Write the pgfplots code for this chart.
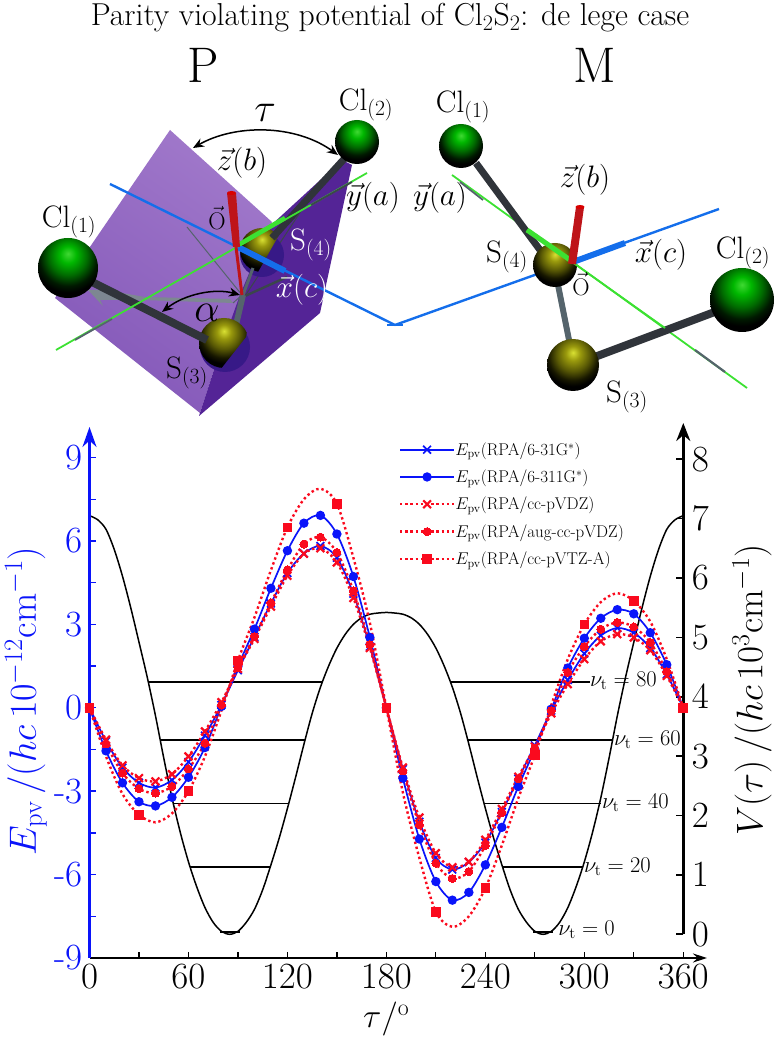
\RequirePackage{fix-cm}
\documentclass[border=0pt]{standalone}
\usepackage{pgfplots}
\usepackage{pgfplotstable}
\pgfplotsset{compat=1.18}
\usetikzlibrary{arrows.meta}
\definecolor{pvblue}{RGB}{10,20,250}
\definecolor{pvred}{RGB}{250,10,30}
\definecolor{axblue}{RGB}{20,110,235}
\definecolor{axgreen}{RGB}{60,225,50}
\definecolor{bonddark}{RGB}{48,52,58}
\definecolor{bondgrey}{RGB}{85,100,108}
\definecolor{barred}{RGB}{190,20,25}
\definecolor{clA}{rgb}{0.25,0.85,0.2}
\definecolor{clB}{rgb}{0,0.72,0}
\definecolor{clC}{rgb}{0,0.42,0}
\definecolor{clD}{rgb}{0,0.1,0}
\definecolor{sA}{rgb}{0.85,0.88,0.2}
\definecolor{sB}{rgb}{0.6,0.6,0.05}
\definecolor{sC}{rgb}{0.35,0.35,0.02}
\definecolor{sD}{rgb}{0.09,0.09,0}
\definecolor{planeL}{RGB}{160,120,202}
\definecolor{planeR}{RGB}{132,88,185}
\definecolor{planeD}{RGB}{84,36,150}
\definecolor{atomB}{RGB}{55,25,135}
\definecolor{shadowG}{RGB}{125,135,145}
\pgfdeclareradialshading{clball}{\pgfpoint{0bp}{12bp}}{color(0bp)=(clA);color(7bp)=(clB);color(16bp)=(clC);color(24bp)=(clD);color(29bp)=(black);color(100bp)=(black)}
\pgfdeclareradialshading{sball}{\pgfpoint{0bp}{12bp}}{color(0bp)=(sA);color(7bp)=(sB);color(16bp)=(sC);color(24bp)=(sD);color(29bp)=(black);color(100bp)=(black)}
\newcommand{\fs}[1]{\fontsize{#1}{#1}\selectfont}
\pgfplotstableread{
tau bx bd rx rd rs
0 0 0 0 0 0
10 -1.2 -1.55 -1.15 -1.3 -1.75
20 -2.15 -2.7 -2.07 -2.35 -3.1
30 -2.7 -3.38 -2.53 -2.91 -3.85
40 -2.87 -3.53 -2.65 -3.07 -4.12
50 -2.6 -3.22 -2.39 -2.83 -3.8
60 -1.95 -2.5 -1.75 -2.2 -3.0
70 -1.0 -1.43 -0.85 -1.27 -1.75
80 0.1 0.05 0.2 0.1 -0.1
90 1.35 1.5 1.4 1.45 1.7
100 2.55 2.83 2.48 2.56 3.25
110 3.75 4.3 3.64 3.77 4.95
120 4.85 5.65 4.75 4.96 6.49
130 5.55 6.64 5.54 5.89 7.5
140 5.82 6.92 5.74 6.14 7.88
150 5.4 6.25 5.23 5.59 7.34
160 4.1 4.72 3.95 4.21 5.4
170 2.2 2.53 2.15 2.27 3.05
180 0 0 0 0 0
190 -2.2 -2.53 -2.15 -2.27 -3.05
200 -4.1 -4.72 -3.95 -4.21 -5.4
210 -5.4 -6.25 -5.23 -5.59 -7.34
220 -5.82 -6.92 -5.74 -6.14 -7.88
230 -5.55 -6.64 -5.54 -5.89 -7.5
240 -4.85 -5.65 -4.75 -4.96 -6.49
250 -3.75 -4.3 -3.64 -3.77 -4.95
260 -2.55 -2.83 -2.48 -2.56 -3.25
270 -1.35 -1.5 -1.4 -1.45 -1.7
280 -0.1 -0.05 -0.2 -0.1 0.1
290 1.0 1.43 0.85 1.27 1.75
300 1.95 2.5 1.75 2.2 3.0
310 2.6 3.22 2.39 2.83 3.8
320 2.87 3.53 2.65 3.07 4.12
330 2.7 3.38 2.53 2.91 3.85
340 2.15 2.7 2.07 2.35 3.1
350 1.2 1.55 1.15 1.3 1.75
360 0 0 0 0 0
}\Eseries
\pgfplotstableread{
tau V
0 7.05
5 6.98
10 6.82
15 6.48
20 6.03
25 5.5
30 4.92
35 4.33
40 3.68
45 2.97
50 2.3
55 1.72
60 1.22
65 0.8
70 0.45
75 0.2
80 0.05
85 0.0
90 0.05
95 0.2
100 0.42
105 0.75
110 1.17
115 1.62
120 2.12
125 2.65
130 3.2
135 3.72
140 4.16
145 4.52
150 4.82
155 5.05
160 5.22
165 5.33
170 5.39
175 5.41
180 5.42
185 5.41
190 5.39
195 5.33
200 5.22
205 5.05
210 4.82
215 4.52
220 4.16
225 3.72
230 3.2
235 2.65
240 2.12
245 1.62
250 1.17
255 0.75
260 0.42
265 0.2
270 0.05
275 0.0
280 0.05
285 0.2
290 0.45
295 0.8
300 1.22
305 1.72
310 2.3
315 2.97
320 3.68
325 4.33
330 4.92
335 5.5
340 6.03
345 6.48
350 6.82
355 6.98
360 7.05
}\Vcurve
\begin{document}
\begin{tikzpicture}
\useasboundingbox (0pt,0pt) rectangle (779pt,1038pt);
% ---------- illustration, in the reference's pixel coordinates
\begin{scope}[x=1pt,y=-1pt,yshift=1038pt]
\node[font=\fs{31.7}] at (390,18) {Parity violating potential of Cl$_2$S$_2$: de lege case};
\node[font=\fs{50}] at (203,65) {P};
\node[font=\fs{50}] at (595,65) {M};
% planes
\shade[left color=planeL,right color=planeR,shading angle=-35] (170,130)--(272,222)--(240,300)--(222,345)--(200,413)--(55,298)--cycle;
\fill[planeD] (342,160)--(352,165)--(320,313)--(199,416)--(222,345)--(240,295)--(268,228)--cycle;
\fill[shadowG] (88,290)--(103,306)--(100,300)--(142,300)--(233,303)--(230,299)--(145,297)--(105,290)--cycle;
% P: hidden lines
\draw[line width=1pt,bondgrey] (187,227)--(242,295)--(233,303);
\draw[line width=2.4pt,bondgrey!70!black] (245,296)--(287,277);
\draw[line width=1pt,bondgrey!70!black] (245,296)--(305,205);
% P: atoms and bonds
\fill[atomB] (262,255) circle (22);
\begin{scope}\clip (232,220)--(283,228)--(258,272)--(240,285)--cycle;\shade[shading=sball] (262,250) circle (22);\end{scope}
\draw[line width=6pt,bondgrey] (243,295)--(236,325);
\draw[line width=3pt,bondgrey] (253,268)--(243,295);
\draw[line width=7pt,bonddark] (272,238)--(345,158);
\shade[shading=clball] (357,142) circle (22);
\fill[atomB] (225,347) circle (25);
\begin{scope}\clip (195,315)--(250,315)--(246,337)--(220,370)--(195,370)--cycle;\shade[shading=sball] (224,343) circle (25);\end{scope}
\draw[line width=8pt,bonddark] (92,282)--(207,340);
\shade[shading=clball] (68,268) circle (30);
% P: axes
\draw[line width=2.4pt,axblue] (110,184)--(395,325);
\draw[line width=6pt,axblue] (236,246)--(285,271);
\draw[line width=1.8pt,axgreen] (56,350)--(367,173);
\draw[line width=1.8pt,bondgrey] (75,340)--(112,319);
\draw[line width=1.8pt,bondgrey!70!black] (311,205)--(352,182);
\draw[line width=4.5pt,axgreen] (240,244)--(285,218);
\draw[line width=3pt,barred] (236,247)--(242,295);
\fill[barred] (227,193)--(236,193)--(240,247)--(233,247)--cycle;
\fill[red!85!black] (231.5,193) ellipse (4.5 and 2);
\draw[{Stealth[length=11pt,width=9pt]}-{Stealth[length=11pt,width=9pt]},line width=1.5pt] (193,148) .. controls (235,124) and (295,124) .. (338,155);
\draw[{Stealth[length=11pt,width=9pt]}-{Stealth[length=11pt,width=9pt]},line width=1.5pt] (162,312) .. controls (185,294) and (215,288) .. (240,295);
% M: axes, atoms and bonds
\draw[line width=2.4pt,axblue] (395,325)--(719,209);
\draw[line width=2pt,axblue] (387,325)--(403,325);
\draw[line width=1.8pt,axgreen] (452,175)--(747,388);
\draw[line width=1.8pt,bondgrey] (460,182)--(483,200);
\draw[line width=2.2pt,bondgrey] (695,350)--(725,372);
\draw[line width=7pt,bonddark] (476,163)--(540,250);
\shade[shading=clball] (461,146) circle (22);
\draw[line width=6pt,bondgrey] (557,280)--(570,345);
\shade[shading=sball] (555,265) circle (22);
\draw[line width=8pt,bonddark] (592,358)--(720,310);
\shade[shading=sball] (573,365) circle (26);
\shade[shading=clball] (742,300) circle (32);
\draw[line width=6pt,axblue] (573,262)--(625,243);
\draw[line width=5pt,axgreen] (527,230)--(573,262);
\draw[line width=1.8pt,axgreen] (527,230)--(665,328);
\draw[line width=8pt,barred] (572,264)--(580,207);
\fill[red!85!black] (580,207) ellipse (4.5 and 2);
% labels
\begin{scope}[every node/.style={font=\fs{31}}]
\node at (69,222) {Cl$_{(1)}$};
\node at (366,105) {Cl$_{(2)}$};
\node[font=\fs{40}] at (265,113) {$\tau$};
\node at (242,163) {$\vec{z}(b)$};
\node[font=\fs{24}] at (217,218) {$\vec{\mathrm{O}}$};
\node[white] at (311,245) {S$_{(4)}$};
\node[white] at (302,290) {$\vec{x}(c)$};
\node at (373,198) {$\vec{y}(a)$};
\node[font=\fs{40}] at (207,313) {$\alpha$};
\node at (187,373) {S$_{(3)}$};
\node at (463,107) {Cl$_{(1)}$};
\node at (440,198) {$\vec{y}(a)$};
\node at (585,180) {$\vec{z}(b)$};
\node at (507,257) {S$_{(4)}$};
\node at (661,255) {$\vec{x}(c)$};
\node[font=\fs{24}] at (581,284) {$\vec{\mathrm{O}}$};
\node at (743,253) {Cl$_{(2)}$};
\node at (627,397) {S$_{(3)}$};
\end{scope}
\end{scope}
% ---------- potential on the right-hand axis
\begin{axis}[
  name=Vaxis, scale only axis, at={(89.5pt,103.7pt)}, anchor=south west,
  width=593.8pt, height=511.3pt,
  xmin=0, xmax=360, ymin=0, ymax=8.61,
  axis x line=none, axis y line=right,
  axis line style={line width=2.6pt,black,-{Stealth[length=18pt,width=14pt]}},
  ytick={0,1,...,8}, tick align=inside, major tick length=7pt,
  y tick style={line width=1.6pt,black},
  tick label style={font=\fs{37}}, yticklabel style={xshift=5pt},
  ylabel={$V(\tau)\,/(hc\,10^{3}\mathrm{cm}^{-1})$},
  ylabel style={font=\fs{37},at={(axis description cs:1.1157,0.478)},anchor=center},
  clip=false,
]
\addplot[black,line width=1.5pt,smooth] table[x=tau,y=V] {\Vcurve};
\addplot[black,line width=1.5pt] coordinates {(36,4.25) (141,4.25)};
\addplot[black,line width=1.5pt] coordinates {(219,4.25) (303.5,4.25)};
\addplot[black,line width=1.5pt] coordinates {(42.8,3.27) (130.6,3.27)};
\addplot[black,line width=1.5pt] coordinates {(229.4,3.27) (317,3.27)};
\addplot[black,line width=1.5pt] coordinates {(50.5,2.2) (120.8,2.2)};
\addplot[black,line width=1.5pt] coordinates {(239.2,2.2) (310,2.2)};
\addplot[black,line width=1.5pt] coordinates {(61,1.13) (109.5,1.13)};
\addplot[black,line width=1.5pt] coordinates {(250.5,1.13) (299,1.13)};
\addplot[black,line width=1.2pt] coordinates {(79,0.04) (91,0.04)};
\addplot[black,line width=1.2pt] coordinates {(269,0.04) (281,0.04)};
\end{axis}
% ---------- parity violating potential on the left-hand axis
\begin{axis}[
  name=Eaxis, scale only axis, at={(89.5pt,80pt)}, anchor=south west,
  width=617.5pt, height=531pt,
  xmin=0, xmax=374.4, ymin=-9, ymax=10.1,
  axis x line=bottom, axis y line=left,
  x axis line style={line width=1.5pt,black,-{Stealth[length=14pt,width=9pt]}},
  y axis line style={line width=2.4pt,pvblue,-{Stealth[length=20pt,width=14pt]}},
  xtick={0,60,...,360}, minor xtick={30,90,...,330},
  ytick={-9,-6,...,9}, minor ytick={-7.5,-4.5,...,7.5},
  yticklabels={-9,-6,-3,0,3,6,9},
  tick align=inside, major tick length=6pt, minor tick length=6pt,
  x tick style={line width=1.2pt,black}, y tick style={line width=1.4pt,pvblue},
  minor x tick style={line width=1.2pt,black}, minor y tick style={line width=1.4pt,pvblue},
  tick label style={font=\fs{37}},
  xticklabel style={yshift=-3pt}, yticklabel style={pvblue,xshift=-3pt},
  xlabel={$\tau/^{\mathrm{o}}$},
  xlabel style={font=\fs{34},at={(axis description cs:0.4805,-0.115)},anchor=center},
  ylabel={$E_{\mathrm{pv}}\,/(hc\,10^{-12}\mathrm{cm}^{-1})$},
  ylabel style={font=\fs{38},pvblue,at={(axis description cs:-0.103,0.484)},anchor=center},
  clip=false,
  legend style={at={(0.501,0.983)},anchor=north west,draw=none,fill=none,font=\fs{17},
    inner sep=0pt,outer sep=0pt,
    nodes={inner sep=0pt,minimum height=27.3pt,anchor=west},row sep=0pt,
    /tikz/every even column/.append style={column sep=5pt}},
  legend cell align=left,
  legend image code/.code={\draw[#1,mark repeat=2,mark phase=2] plot coordinates {(0pt,0pt)(27pt,0pt)(54pt,0pt)};},
]
\addplot[pvblue,line width=1.7pt,smooth,mark=x,mark size=5.5pt,mark options={solid,line width=1.7pt}] table[x=tau,y=bx] {\Eseries};
\addplot[pvblue,line width=1.7pt,smooth,mark=*,mark size=3.8pt,mark options={solid,fill=pvblue}] table[x=tau,y=bd] {\Eseries};
\addplot[pvred,line width=2.4pt,smooth,dash pattern=on 2.4pt off 2.8pt,mark=x,mark size=5.5pt,mark options={solid,line width=2.2pt}] table[x=tau,y=rx] {\Eseries};
\addplot[pvred,line width=2.4pt,smooth,dash pattern=on 2.4pt off 2.8pt,mark=*,mark size=4pt,mark options={solid,fill=pvred,line width=0pt}] table[x=tau,y=rd] {\Eseries};
\addplot[pvred,line width=2.4pt,smooth,dash pattern=on 2.4pt off 2.8pt,mark=square*,mark size=4.3pt,mark repeat=3,mark options={solid,fill=pvred,line width=0pt}] table[x=tau,y=rs] {\Eseries};
\legend{$E_{\mathrm{pv}}$(RPA/6-31G$^{*}$),$E_{\mathrm{pv}}$(RPA/6-311G$^{*}$),$E_{\mathrm{pv}}$(RPA/cc-pVDZ),$E_{\mathrm{pv}}$(RPA/aug-cc-pVDZ),$E_{\mathrm{pv}}$(RPA/cc-pVTZ-A)}
\end{axis}
% ---------- level labels
\begin{scope}[x=1pt,y=-1pt,yshift=1038pt,every node/.style={font=\fs{22.5},anchor=east,inner sep=0pt}]
\node at (657,681) {$\nu_{\mathrm{t}}=80$};
\node at (681,740) {$\nu_{\mathrm{t}}=60$};
\node at (669,803) {$\nu_{\mathrm{t}}=40$};
\node at (651,867) {$\nu_{\mathrm{t}}=20$};
\node at (615,930) {$\nu_{\mathrm{t}}=0$};
\end{scope}
\end{tikzpicture}
\end{document}
